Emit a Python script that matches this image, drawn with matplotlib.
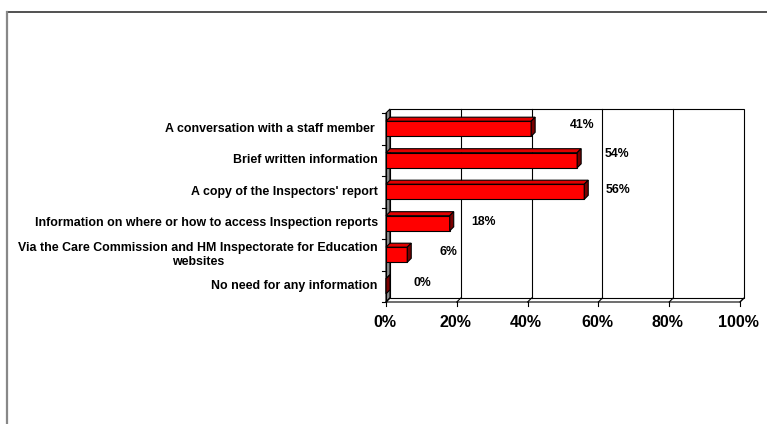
import numpy as np
import matplotlib.pyplot as plt
from matplotlib.patches import Polygon, Rectangle
from matplotlib.lines import Line2D

plt.rcParams['font.family'] = ['Liberation Sans', 'DejaVu Sans']

categories = ["A conversation with a staff member ",
              "Brief written information",
              "A copy of the Inspectors' report",
              "Information on where or how to access Inspection reports",
              "Via the Care Commission and HM Inspectorate for Education\nwebsites",
              "No need for any information"]
values = [41, 54, 56, 18, 6, 0]
xticks = [0, 20, 40, 60, 80, 100]
xtick_labels = ["0%", "20%", "40%", "60%", "80%", "100%"]
# label nudges in points (x, y)
label_nudge = [(37, 2.5), (29, 4.3), (24, 1), (24.5, 0.7), (30, 2), (26, 2.5)]

W, H = 767, 424
fig = plt.figure(figsize=(W / 100, H / 100), dpi=100)

# axes = front plane of the 3d box
L, R, T, B = 386, 740, 113, 302
ax = fig.add_axes([L / W, 1 - B / H, (R - L) / W, (B - T) / H])
n = len(categories)
ax.set_xlim(0, 100)
ax.set_ylim(n - 0.5, -0.5)
ax.axis('off')

# depth offset in data units (4 px right, 4 px up)
dx = 4 / ((R - L) / 100)
dy = 4 / ((B - T) / n)
top, bot = -0.5, n - 0.5

# left wall
ax.add_patch(Polygon([(0, bot), (0, top), (dx, top - dy), (dx, bot - dy)],
                     closed=True, fc='#8c8c8c', ec='black', lw=0.8, clip_on=False))
# floor
ax.add_patch(Polygon([(0, bot), (100, bot), (100 + dx, bot - dy), (dx, bot - dy)],
                     closed=True, fc='white', ec='black', lw=0.8, clip_on=False))
# back wall
ax.add_patch(Rectangle((dx, top - dy), 100, n, fc='white', ec='black', lw=0.8,
                       clip_on=False, zorder=1))
for x in xticks[1:-1]:
    ax.add_line(Line2D([x + dx, x + dx], [top - dy, bot - dy], color='black', lw=0.8, clip_on=False))
for x, lab in zip(xticks, xtick_labels):
    ax.add_line(Line2D([x, x + dx], [bot, bot - dy], color='black', lw=0.8, clip_on=False))
    ax.add_line(Line2D([x, x], [bot, bot + 0.13], color='black', lw=0.8, clip_on=False))
    ax.text(x - 0.4, bot + 0.42, lab, ha='center', va='top',
            fontsize=11.5, fontweight='bold')

# category axis
ax.add_line(Line2D([0, 0], [top, bot], color='black', lw=0.8, clip_on=False))
for i in range(n + 1):
    ax.add_line(Line2D([-1.2, 0], [i - 0.5, i - 0.5], color='black', lw=0.8, clip_on=False))
for i, c in enumerate(categories):
    ax.text(-2.3, i, c, ha='right', va='center', multialignment='center',
            fontsize=8.9, fontweight='bold')

# 3d bars
h = 0.48
for i, v in enumerate(values):
    y0, y1 = i - h / 2, i + h / 2
    ax.add_patch(Rectangle((0, y0), v, h, fc='#ff0000', ec='black', lw=0.8, zorder=3))
    ax.add_patch(Polygon([(0, y0), (v, y0), (v + dx, y0 - dy), (dx, y0 - dy)], closed=True,
                         fc='#e00000', ec='black', lw=0.8, zorder=3, clip_on=False))
    ax.add_patch(Polygon([(v, y0), (v, y1), (v + dx, y1 - dy), (v + dx, y0 - dy)], closed=True,
                         fc='#7a0000', ec='black', lw=0.8, zorder=3, clip_on=False))
    ax.annotate(f"{v}%", (v, i), xytext=label_nudge[i], textcoords='offset points',
                ha='center', va='center', fontsize=8.8, fontweight='bold')

# chart border
fig.add_artist(Line2D([6.5 / W, 1], [1 - 11.5 / H, 1 - 11.5 / H], color='#333333', lw=1.2))
fig.add_artist(Line2D([6.5 / W, 6.5 / W], [0, 1 - 11.5 / H], color='#888888', lw=1.6))

fig.savefig('out.png', dpi=100)
